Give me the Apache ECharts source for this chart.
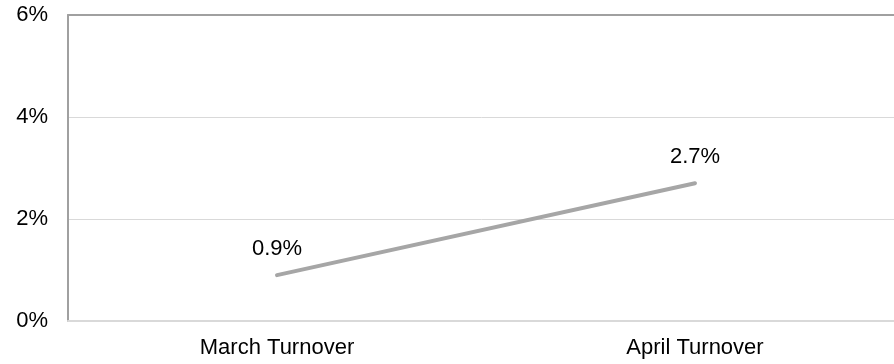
<!DOCTYPE html>
<html>
<head>
<meta charset="utf-8">
<script src="https://cdn.jsdelivr.net/npm/echarts@6/dist/echarts.min.js"></script>
<style>
  html, body { margin: 0; padding: 0; background: #fff; }
  #chart { width: 894px; height: 364px; }
</style>
</head>
<body>
<div id="chart"></div>
<script>
// Monthly turnover rates (percent)
const categories = ['March Turnover', 'April Turnover'];
const turnover = [0.9, 2.7];
const yTicks = [0, 2, 4, 6];

const chart = echarts.init(document.getElementById('chart'));
const font = 'Liberation Sans, Arial, sans-serif';

chart.setOption({
  animation: false,
  backgroundColor: '#fff',
  grid: { left: 68, width: 836, top: 15, height: 306, outerBoundsMode: 'none' },
  xAxis: [
    {
      type: 'category',
      data: categories,
      boundaryGap: true,
      axisLine: { show: true, lineStyle: { color: '#d9d9d9', width: 2 } },
      axisTick: { show: false },
      axisLabel: { color: '#000', fontSize: 22, fontFamily: font, margin: 16 }
    },
    {
      type: 'category',
      position: 'top',
      data: categories,
      axisLine: { show: true, lineStyle: { color: '#a0a0a0', width: 2 } },
      axisTick: { show: false },
      axisLabel: { show: false }
    }
  ],
  yAxis: {
    type: 'value',
    min: yTicks[0],
    max: yTicks[yTicks.length - 1],
    interval: yTicks[1] - yTicks[0],
    axisLine: { show: true, lineStyle: { color: '#a0a0a0', width: 2 } },
    axisTick: { show: false },
    splitLine: { show: true, lineStyle: { color: '#d9d9d9', width: 1 } },
    axisLabel: {
      color: '#000', fontSize: 22, fontFamily: font, margin: 20,
      formatter: v => v + '%'
    }
  },
  series: [{
    type: 'line',
    data: turnover,
    showSymbol: true,
    symbol: 'circle',
    symbolSize: 1,
    itemStyle: { color: 'rgba(0,0,0,0)' },
    lineStyle: { color: '#a6a6a6', width: 4, cap: 'round' },
    label: {
      show: true,
      position: 'top',
      distance: 15,
      color: '#000',
      opacity: 1,
      fontSize: 22,
      fontFamily: font,
      formatter: p => p.value.toFixed(1) + '%'
    }
  }]
});
</script>
</body>
</html>
